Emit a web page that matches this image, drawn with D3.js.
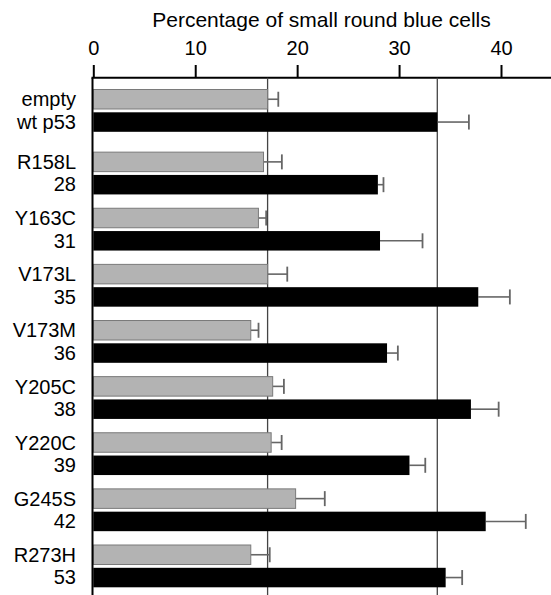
<!DOCTYPE html>
<html><head><meta charset="utf-8">
<script src="https://cdn.jsdelivr.net/npm/d3@7"></script>
<style>
html,body{margin:0;padding:0;background:#fff;}
text{font-family:"Liberation Sans",Arial,Helvetica,sans-serif;fill:#000;}
</style></head>
<body>
<svg id="chart" width="551" height="595"></svg>
<script>
const grayLabels = ["empty","R158L","Y163C","V173L","V173M","Y205C","Y220C","G245S","R273H"];
const blackLabels = ["wt p53","28","31","35","36","38","39","42","53"];
const grayValues = [17.1,16.7,16.2,17.1,15.45,17.6,17.45,19.85,15.45];
const grayErrors = [1.05,1.8,0.76,1.93,0.76,1.1,1.03,2.86,1.86];
const blackValues = [33.75,27.92,28.13,37.77,28.82,37.05,31.02,38.5,34.57];
const blackErrors = [3.1,0.55,4.17,3.1,1.06,2.72,1.55,3.93,1.62];
const xTicks = [0,10,20,30,40];
const title = "Percentage of small round blue cells";

const W = 551, H = 595;
const svg = d3.select("#chart");
const x = d3.scaleLinear().domain([0,40]).range([93.3,501.0]);
const axisY = 77.7;
const slot = i => i === 0 ? 0 : i + 0.116;
const yGroup = d3.scaleLinear().domain([0, 8.116]).range([89.5, 545]);
const barH = 19.5, blackOff = 22.8;

// title
svg.append("text").attr("x", 321.5).attr("y", 26.5).attr("text-anchor","middle")
  .style("font-size","21px").text(title);

// top axis
const axis = d3.axisTop(x).tickValues(xTicks).tickSize(12.7).tickPadding(10).tickFormat(d3.format("d"));
const ag = svg.append("g").attr("transform",`translate(0,${axisY})`).call(axis);
ag.select(".domain").remove();
ag.selectAll(".tick line").attr("stroke","#000").attr("stroke-width",2);
ag.selectAll(".tick text").style("font-size","20px").attr("fill","#000")
  .style("font-family","'Liberation Sans',Arial,sans-serif");
svg.append("line").attr("x1", x(0)-1.8).attr("x2", W).attr("y1", axisY).attr("y2", axisY)
  .attr("stroke","#000").attr("stroke-width",2);

const data = grayLabels.map((g,i)=>({g, b:blackLabels[i], gv:grayValues[i], ge:grayErrors[i], bv:blackValues[i], be:blackErrors[i], top:yGroup(slot(i))}));

// reference lines
[grayValues[0], blackValues[0]].forEach(v=>{
  svg.append("line").attr("x1",x(v)).attr("x2",x(v)).attr("y1",axisY).attr("y2",H)
    .attr("stroke","#444").attr("stroke-width",1.3);
});

const rows = svg.append("g");
data.forEach(d=>{
  [[d.gv,d.ge,d.top],[d.bv,d.be,d.top+blackOff]].forEach(([v,e,t])=>{
    const cy = t + barH/2;
    rows.append("line").attr("x1",x(v)).attr("x2",x(v+e)).attr("y1",cy).attr("y2",cy)
      .attr("stroke","#666").attr("stroke-width",1.6);
    rows.append("line").attr("x1",x(v+e)).attr("x2",x(v+e)).attr("y1",cy-7.5).attr("y2",cy+7.5)
      .attr("stroke","#666").attr("stroke-width",1.8);
  });
  rows.append("rect").attr("x",x(0)).attr("y",d.top).attr("width",x(d.gv)-x(0)).attr("height",barH)
    .attr("fill","#b3b3b3").attr("stroke","#7a7a7a").attr("stroke-width",1);
  rows.append("rect").attr("x",x(0)).attr("y",d.top+blackOff).attr("width",x(d.bv)-x(0)).attr("height",barH)
    .attr("fill","#000");
  rows.append("text").attr("x",76).attr("y",d.top+barH/2+7.2).attr("text-anchor","end")
    .style("font-size","20px").text(d.g);
  rows.append("text").attr("x",76).attr("y",d.top+blackOff+barH/2+6.8).attr("text-anchor","end")
    .style("font-size","20px").text(d.b);
});

// left axis line
svg.append("line").attr("x1",x(0)-0.8).attr("x2",x(0)-0.8).attr("y1",axisY).attr("y2",H)
  .attr("stroke","#000").attr("stroke-width",2);
</script>
</body></html>
